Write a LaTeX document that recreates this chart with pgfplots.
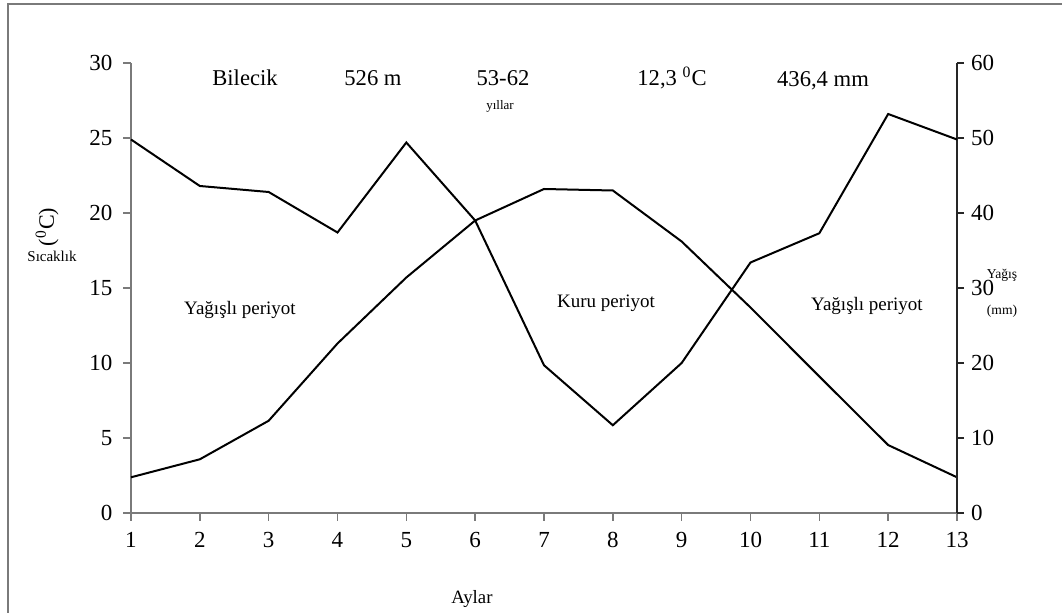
\documentclass[border=0pt]{standalone}
\usepackage{pgfplots}
\pgfplotsset{compat=1.18}
\usepackage{fontspec}
\setmainfont{Liberation Serif}
\pgfplotstableread{
x t
1 2.38
2 3.58
3 6.15
4 11.3
5 15.7
6 19.5
7 21.6
8 21.5
9 18.1
10 13.7
11 9.1
12 4.53
13 2.38
}\temp
\pgfplotstableread{
x p
1 49.8
2 43.6
3 42.8
4 37.4
5 49.4
6 39.0
7 19.7
8 11.7
9 20.0
10 33.4
11 37.3
12 53.2
13 49.8
}\prec
\definecolor{spinegray}{HTML}{7A7A7A}
\begin{document}
\begin{tikzpicture}
\begin{scope}[x=0.5pt,y=-0.5pt,shift={(-65.5pt,256.5pt)}]
\useasboundingbox (0,0) rectangle (1062,613);
\draw[spinegray,line width=0.9pt] (8,613) -- (8,4) -- (1062,4);
\end{scope}
\begin{axis}[
  at={(0,0)}, anchor=south west, scale only axis,
  width=413pt, height=225pt,
  xmin=1, xmax=13, ymin=0, ymax=30,
  axis x line*=bottom, axis y line*=left,
  xtick={1,...,13}, ytick={0,5,...,30},
  tick align=outside, major tick length=3.8pt,
  axis line style={draw=spinegray, line width=0.7pt, -},
  tick style={draw=spinegray, line width=0.7pt},
  ticklabel style={font=\fontsize{11.5}{13}\selectfont},
  xticklabel style={yshift=-2.5pt},
  yticklabel style={xshift=-2pt},
  /pgf/number format/assume math mode=true,
  clip=false,
]
\addplot[black, line width=1pt] table[x=x,y=t] {\temp};
\end{axis}
\begin{axis}[
  at={(0,0)}, anchor=south west, scale only axis,
  width=413pt, height=225pt,
  xmin=1, xmax=13, ymin=0, ymax=60,
  axis x line=none, axis y line*=right,
  ytick={0,10,...,60},
  tick align=outside, major tick length=3.5pt,
  axis line style={draw=black!85, line width=0.7pt, -},
  tick style={draw=black!85, line width=0.7pt},
  ticklabel style={font=\fontsize{11.5}{13}\selectfont},
  /pgf/number format/assume math mode=true,
  clip=false,
]
\addplot[black, line width=1pt] table[x=x,y=p] {\prec};
\end{axis}
\begin{scope}[x=0.5pt,y=-0.5pt,shift={(-65.5pt,256.5pt)}]
\def\big{\fontsize{11.3}{13}\selectfont}
\def\mid{\fontsize{9.5}{11}\selectfont}
\node[font=\big] at (245,78) {Bilecik};
\node[font=\big] at (373,78) {526 m};
\node[font=\big] at (503,78) {53-62};
\node[font=\fontsize{6.5}{8}\selectfont] at (500,106) {yıllar};
\node[font=\big] at (672,78) {12,3 \textsuperscript{0}C};
\node[font=\big] at (823,81) {436,4 mm};
\node[font=\mid] at (240,310) {Yağışlı periyot};
\node[font=\mid] at (606,303) {Kuru periyot};
\node[font=\mid] at (867,306) {Yağışlı periyot};
\node[font=\fontsize{11}{13}\selectfont, rotate=90] at (47,227) {(\textsuperscript{0}C)};
\node[font=\fontsize{7.5}{9}\selectfont] at (52,256) {Sıcaklık};
\node[font=\fontsize{6.8}{8}\selectfont] at (1002,275) {Yağış};
\node[font=\fontsize{6.8}{8}\selectfont] at (1002,311) {(mm)};
\node[font=\fontsize{9.4}{11}\selectfont] at (472,599) {Aylar};
\end{scope}
\end{tikzpicture}
\end{document}
